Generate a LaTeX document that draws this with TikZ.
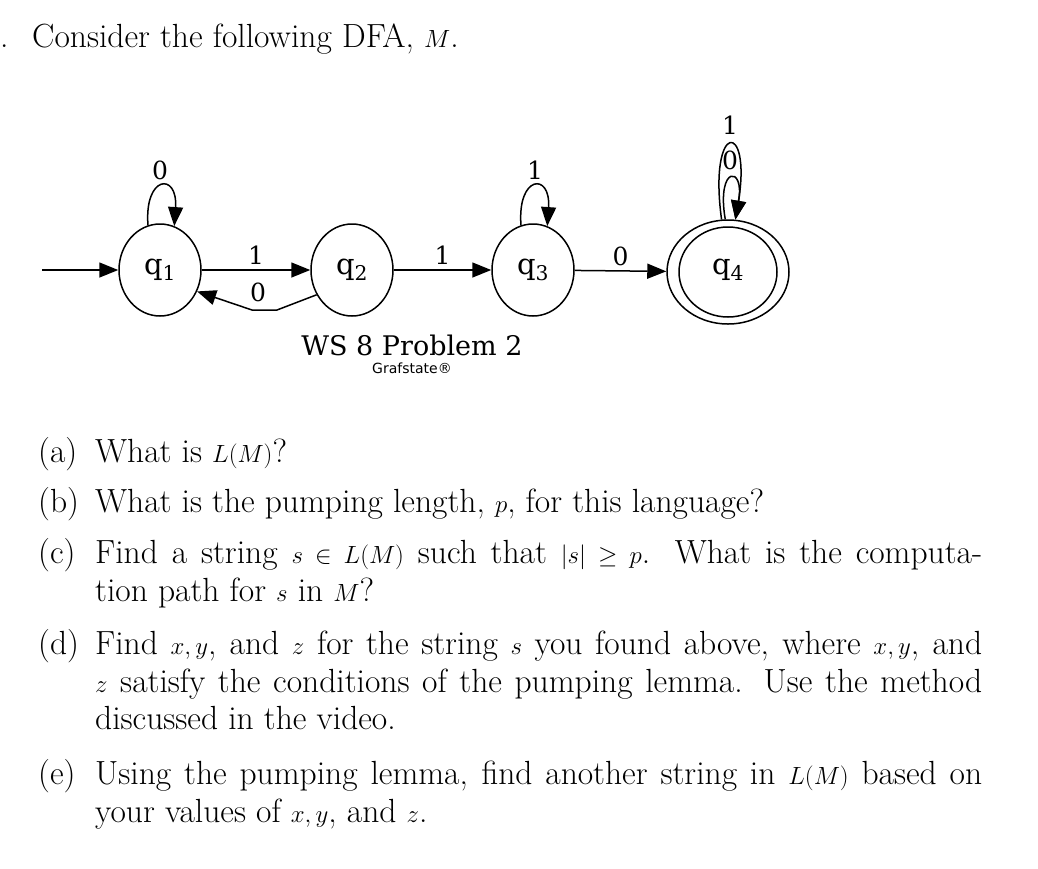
\documentclass[tikz,border=0pt]{standalone}
\usepackage{amsmath,amssymb}
\usepackage{fontspec}
\newfontfamily\dvs{DejaVu Serif}
\newfontfamily\dvsans{DejaVu Sans}
\usetikzlibrary{arrows.meta,shapes.geometric}
\begin{document}
\begin{tikzpicture}[x=1pt,y=-1pt,
  st/.style={draw,line width=1.5pt,ellipse,minimum width=82pt,minimum height=92pt,inner sep=0pt},
  lbl/.style={font=\dvs\fontsize{25}{27}\selectfont},
  ql/.style={font=\dvs\fontsize{29}{31}\selectfont},
  ed/.style={line width=1.5pt,-{Triangle[length=19pt,width=15pt]}},
  tx/.style={anchor=base west,inner sep=0pt,font=\fontsize{33.5}{40}\selectfont}]
\useasboundingbox (0,0) rectangle (1038,868);
\node[tx] (t0) at (0,47) {. \ Consider the following DFA, $M$.};
% states
\node[st] (q1) at (160,270) {};
\node[ql] (l1) at (160,270) {q\textsubscript{1}};
\node[st] (q2) at (352,270) {};
\node[ql] (l2) at (352,270) {q\textsubscript{2}};
\node[st] (q3) at (533,270) {};
\node[ql] (l3) at (533,270) {q\textsubscript{3}};
\node[st,minimum width=122pt,minimum height=104pt] (q4) at (728,272) {};
\node[st,minimum width=98pt,minimum height=90pt] (q4i) at (728,272) {};
\node[ql] (l4) at (728,270) {q\textsubscript{4}};
\coordinate (s) at (42,270);
\draw[ed] (s) -- (q1);
\draw[ed] (q1) -- node[lbl,above=1pt] {1} (q2);
\draw[ed] (q2) -- node[lbl,above=1pt] {1} (q3);
\draw[ed] (q3) -- node[lbl,above=1pt] {0} (q4);
\coordinate (b1) at (277,310);
\coordinate (b2) at (252,310);
\draw[ed] (q2.215) -- (b1) -- (b2) -- (q1.-30);
\node[lbl] (z0) at (258,292) {0};
% loops
\draw[ed] (q1.105) .. controls (144,175) and (178,172) .. (q1.72);
\node[lbl] (la) at (160,170) {0};
\draw[ed] (q3.105) .. controls (517,175) and (551,172) .. (q3.72);
\node[lbl] (lb) at (535,170) {1};
\draw[ed] (q4.97) .. controls (708,120) and (752,120) .. (q4.82);
\draw[ed] (q4.93) .. controls (716,165) and (745,165) .. (q4.82);
\node[lbl] (lc) at (730,125) {1};
\node[lbl] (ld) at (730,160) {0};
\node[font=\dvs\fontsize{27}{29}\selectfont] (cap) at (412,345) {WS 8 Problem 2};
\node[font=\dvsans\fontsize{14}{16}\selectfont] (g) at (412,368) {Grafstate®};
% questions
\node[tx] (a1) at (38,462) {(a)};
\node[tx] (a2) at (95,462) {What is $L(M)$?};
\node[tx] (b1t) at (38,512) {(b)};
\node[tx] (b2t) at (95,512) {What is the pumping length, $p$, for this language?};
\node[tx] (c1) at (38,563) {(c)};
\node[tx] (c2) at (95,563) {\makebox[887pt][s]{Find a string $s\in L(M)$ such that $|s|\geq p$. What is the computa-}};
\node[tx] (c3) at (95,601) {tion path for $s$ in $M$?};
\node[tx] (d1) at (38,654) {(d)};
\node[tx] (d2) at (95,654) {\makebox[887pt][s]{Find $x,y$, and $z$ for the string $s$ you found above, where $x,y$, and}};
\node[tx] (d3) at (95,692) {\makebox[887pt][s]{$z$ satisfy the conditions of the pumping lemma. Use the method}};
\node[tx] (d4) at (95,729) {discussed in the video.};
\node[tx] (e1) at (38,784) {(e)};
\node[tx] (e2) at (95,784) {\makebox[887pt][s]{Using the pumping lemma, find another string in $L(M)$ based on}};
\node[tx] (e3) at (95,822) {your values of $x,y$, and $z$.};
\end{tikzpicture}
\end{document}
